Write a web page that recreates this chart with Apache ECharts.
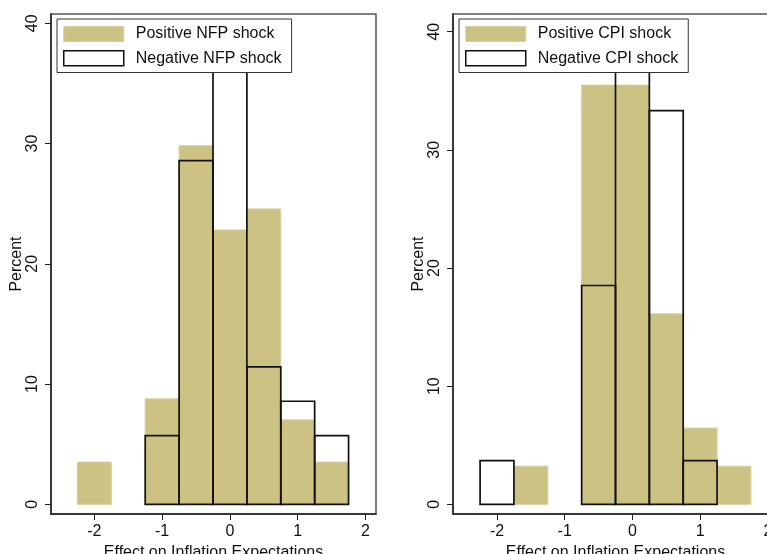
<!DOCTYPE html>
<html>
<head>
<meta charset="utf-8">
<script src="https://cdn.jsdelivr.net/npm/echarts@6/dist/echarts.min.js"></script>
<style>html,body{margin:0;padding:0;background:#fff;}#c{width:767px;height:554px;}</style>
</head>
<body>
<div id="c"></div>
<script>
// ---- data ----
const binCenters = [-2, -1.5, -1, -0.5, 0, 0.5, 1, 1.5];
const binWidth = 0.5;
const posNFP = [3.51, 0, 8.77, 29.82, 22.81, 24.56, 7.02, 3.51];
const negNFP = [0, 0, 5.71, 28.57, 40.00, 11.43, 8.57, 5.71];
const posCPI = [0, 3.23, 0, 35.48, 35.48, 16.13, 6.45, 3.23];
const negCPI = [3.70, 0, 0, 18.52, 40.74, 33.33, 3.70, 0];
const xTicks = [-2, -1, 0, 1, 2];
const yTicks = [0, 10, 20, 30, 40];
const seriesNames = ['Positive NFP shock', 'Negative NFP shock', 'Positive CPI shock', 'Negative CPI shock'];
const xTitle = 'Effect on Inflation Expectations';
const yTitle = 'Percent';

// ---- styling ----
const FONT = 'Liberation Sans, Arial, Helvetica, sans-serif';
const KHAKI = '#CBC284';
const KHAKI_EDGE = '#D6CF9C';
const INK = '#111';

function binData(vals) {
  const out = [];
  vals.forEach((v, i) => {
    if (v > 0) out.push([binCenters[i] - binWidth / 2, binCenters[i] + binWidth / 2, v]);
  });
  return out;
}

function makeRender(filled) {
  return function (params, api) {
    const p0 = api.coord([api.value(0), api.value(2)]);
    const p1 = api.coord([api.value(1), 0]);
    return {
      type: 'rect',
      shape: { x: p0[0], y: p0[1], width: p1[0] - p0[0], height: p1[1] - p0[1] },
      style: filled
        ? { fill: KHAKI, stroke: KHAKI_EDGE, lineWidth: 1 }
        : { fill: 'none', stroke: INK, lineWidth: 1.7 }
    };
  };
}

function xAxis(idx, min, max) {
  return {
    type: 'value', gridIndex: idx, min: min, max: max,
    name: xTitle, nameLocation: 'middle', nameGap: 26,
    nameTextStyle: { fontFamily: FONT, fontSize: 16, color: INK },
    axisLine: { show: true, onZero: false, lineStyle: { color: '#222', width: 1.5 } },
    axisTick: { show: true, length: 6, customValues: xTicks, lineStyle: { color: '#222', width: 1 } },
    axisLabel: { customValues: xTicks, margin: 10, fontFamily: FONT, fontSize: 16, color: INK },
    splitLine: { show: false }
  };
}
function yAxis(idx, min, max) {
  return {
    type: 'value', gridIndex: idx, min: min, max: max,
    name: yTitle, nameLocation: 'middle', nameGap: 24, nameRotate: 90,
    nameTextStyle: { fontFamily: FONT, fontSize: 16, color: INK },
    axisLine: { show: true, onZero: false, lineStyle: { color: '#222', width: 1.5 } },
    axisTick: { show: true, length: 6, customValues: yTicks, lineStyle: { color: '#222', width: 1 } },
    axisLabel: { customValues: yTicks, rotate: 90, margin: 10, fontFamily: FONT, fontSize: 16, color: INK },
    splitLine: { show: false }
  };
}
function legend(left, names) {
  return {
    left: left, top: 19, orient: 'vertical',
    padding: [7, 10, 6, 6], itemGap: 8,
    itemWidth: 60, itemHeight: 15,
    backgroundColor: '#fff', borderColor: '#333', borderWidth: 1,
    selectedMode: false, icon: 'rect',
    textStyle: { fontFamily: FONT, fontSize: 16, color: INK, padding: [0, 0, 0, 7] },
    data: [
      { name: names[0], itemStyle: { color: KHAKI, borderColor: KHAKI_EDGE, borderWidth: 1 } },
      { name: names[1], itemStyle: { color: '#fff', borderColor: INK, borderWidth: 1.5 } }
    ]
  };
}

const chart = echarts.init(document.getElementById('c'), null, { renderer: 'canvas' });
chart.setOption({
  backgroundColor: '#fff',
  animation: false,
  grid: [
    { left: 51, top: 14, width: 325, bottom: 40, containLabel: false, outerBoundsMode: 'none', show: true, borderColor: '#555', borderWidth: 1.5, backgroundColor: '#fff' },
    { left: 453, top: 14, right: -11, bottom: 40, containLabel: false, outerBoundsMode: 'none', show: true, borderColor: '#555', borderWidth: 1.5, backgroundColor: '#fff' }
  ],
  xAxis: [xAxis(0, -2.64, 2.155), xAxis(1, -2.65, 2.15)],
  yAxis: [yAxis(0, -0.807, 40.77), yAxis(1, -0.82, 41.5)],
  legend: [legend(57, seriesNames.slice(0, 2)), legend(459, seriesNames.slice(2, 4))],
  series: [
    { type: 'custom', name: seriesNames[0], xAxisIndex: 0, yAxisIndex: 0, z: 2, renderItem: makeRender(true), data: binData(posNFP), itemStyle: { color: KHAKI } },
    { type: 'custom', name: seriesNames[1], xAxisIndex: 0, yAxisIndex: 0, z: 3, renderItem: makeRender(false), data: binData(negNFP), itemStyle: { color: '#fff' } },
    { type: 'custom', name: seriesNames[2], xAxisIndex: 1, yAxisIndex: 1, z: 2, renderItem: makeRender(true), data: binData(posCPI), itemStyle: { color: KHAKI } },
    { type: 'custom', name: seriesNames[3], xAxisIndex: 1, yAxisIndex: 1, z: 3, renderItem: makeRender(false), data: binData(negCPI), itemStyle: { color: '#fff' } }
  ]
});
</script>
</body>
</html>
